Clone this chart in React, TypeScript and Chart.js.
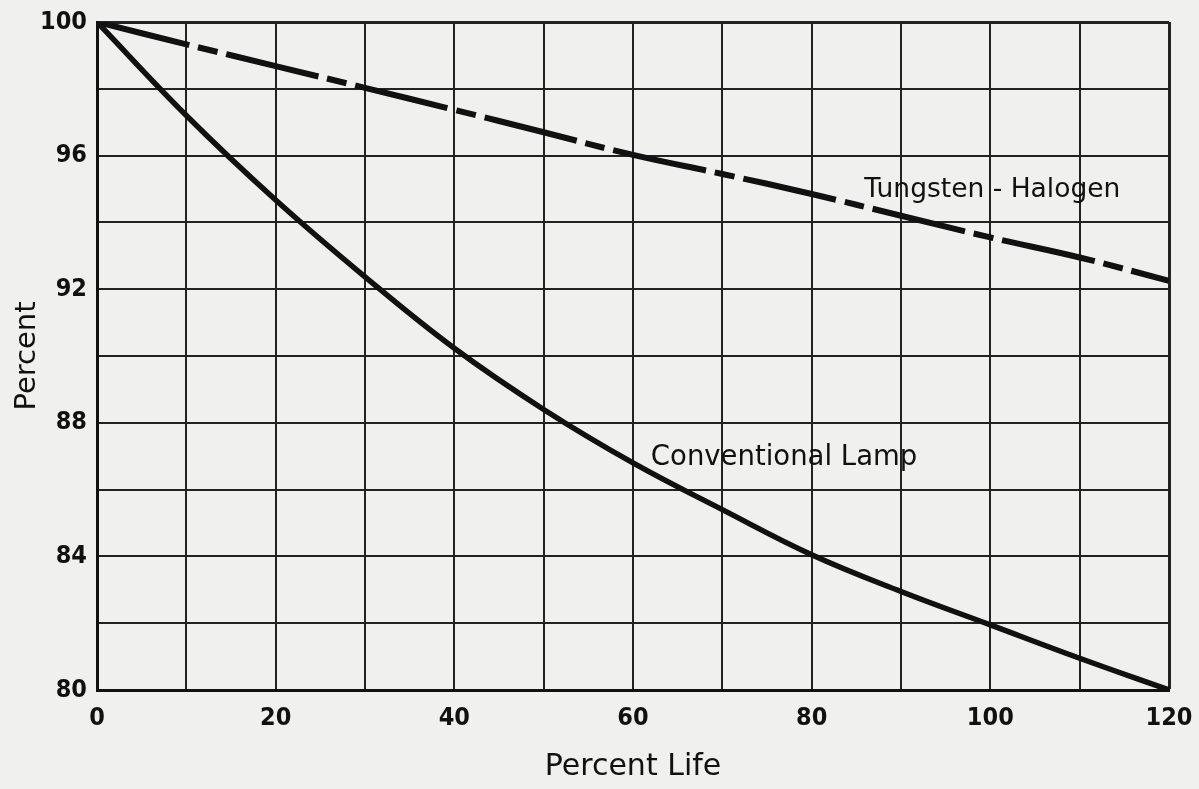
import React, { useEffect, useRef } from "react";
import { Chart, registerables } from "chart.js";

Chart.register(...registerables);

// ---- data ----
const percentLife = [0, 10, 20, 30, 40, 50, 60, 70, 80, 90, 100, 110, 120];
const conventionalLamp = [100, 97.2, 94.67, 92.37, 90.23, 88.4, 86.8, 85.4, 84.05, 82.95, 81.95, 80.95, 80.0];
const tungstenHalogen = [100, 99.33, 98.68, 98.03, 97.37, 96.7, 96.02, 95.45, 94.85, 94.2, 93.55, 92.95, 92.25];
const xTickLabels = [0, 20, 40, 60, 80, 100, 120];
const yTickLabels = [80, 84, 88, 92, 96, 100];
const seriesNames = ["Conventional Lamp", "Tungsten - Halogen"];
const xTitle = "Percent Life";
const yTitle = "Percent";

const BG = "#f0f0ee";
const INK = "#111111";

const labelPlugin = {
  id: "curveLabels",
  beforeDraw(chart: any) {
    const { ctx, width, height } = chart;
    ctx.save();
    ctx.fillStyle = BG;
    ctx.fillRect(0, 0, width, height);
    ctx.restore();
  },
  afterDatasetsDraw(chart: any) {
    const { ctx } = chart;
    const x = chart.scales.x;
    const y = chart.scales.y;
    ctx.save();
    ctx.fillStyle = INK;
    ctx.textAlign = "left";
    ctx.textBaseline = "middle";
    ctx.font = '26.5px "DejaVu Sans", sans-serif';
    ctx.fillText(seriesNames[1], x.getPixelForValue(85.9), y.getPixelForValue(94.97));
    ctx.font = '27.5px "DejaVu Sans", sans-serif';
    ctx.fillText(seriesNames[0], x.getPixelForValue(62.0), y.getPixelForValue(86.95));
    ctx.restore();
  },
};

export default function App() {
  const ref = useRef<HTMLCanvasElement | null>(null);

  useEffect(() => {
    document.body.style.margin = "0";
    document.body.style.background = BG;
    const canvas = ref.current;
    if (!canvas) return;
    const tickFont = { family: '"DejaVu Sans Condensed", sans-serif', size: 25, weight: "bold" as const };
    const chart = new Chart(canvas, {
      type: "line",
      data: {
        datasets: [
          {
            label: seriesNames[0],
            data: percentLife.map((v, i) => ({ x: v, y: conventionalLamp[i] })),
            borderColor: INK,
            borderWidth: 5.5,
            pointRadius: 0,
            tension: 0.4,
            fill: false,
          },
          {
            label: seriesNames[1],
            data: percentLife.map((v, i) => ({ x: v, y: tungstenHalogen[i] })),
            borderColor: INK,
            borderWidth: 6,
            pointRadius: 0,
            borderDash: [95, 9, 20, 9],
            borderCapStyle: "butt",
            tension: 0.4,
            fill: false,
          },
        ],
      },
      options: {
        animation: false,
        responsive: false,
        events: [],
        layout: { padding: { left: 0, right: 30, top: 22, bottom: 0 } },
        plugins: {
          legend: { display: false },
          tooltip: { enabled: false },
        },
        scales: {
          x: {
            type: "linear",
            min: 0,
            max: 120,
            afterFit: (s: any) => {
              s.height = 99;
              s.paddingLeft = 0;
              s.paddingRight = 0;
            },
            ticks: {
              stepSize: 10,
              padding: 13,
              color: INK,
              font: tickFont,
              maxRotation: 0,
              autoSkip: false,
              callback: (v: any) => (xTickLabels.includes(Number(v)) ? String(v) : ""),
            },
            grid: {
              color: "#222222",
              lineWidth: (c: any) => (c.tick && c.tick.value === 120 ? 3 : 2),
              drawTicks: false,
            },
            border: { color: INK, width: 3 },
            title: {
              display: true,
              text: xTitle,
              color: INK,
              font: { family: '"DejaVu Sans", sans-serif', size: 30 },
              padding: { top: 0, bottom: 4 },
            },
          },
          y: {
            type: "linear",
            min: 80,
            max: 100,
            afterFit: (s: any) => {
              s.width = 97;
              s.paddingTop = 0;
              s.paddingBottom = 0;
            },
            ticks: {
              stepSize: 2,
              padding: 10,
              color: INK,
              font: tickFont,
              autoSkip: false,
              callback: (v: any) => (yTickLabels.includes(Number(v)) ? String(v) : ""),
            },
            grid: {
              color: "#222222",
              lineWidth: (c: any) => (c.tick && c.tick.value === 100 ? 3 : 2),
              drawTicks: false,
            },
            border: { color: INK, width: 3 },
            title: {
              display: true,
              text: yTitle,
              color: INK,
              font: { family: '"DejaVu Sans", sans-serif', size: 29 },
              padding: { top: 10, bottom: 0 },
            },
          },
        },
      },
      plugins: [labelPlugin],
    });
    return () => chart.destroy();
  }, []);

  return <canvas ref={ref} width={1199} height={789} style={{ display: "block" }} />;
}
